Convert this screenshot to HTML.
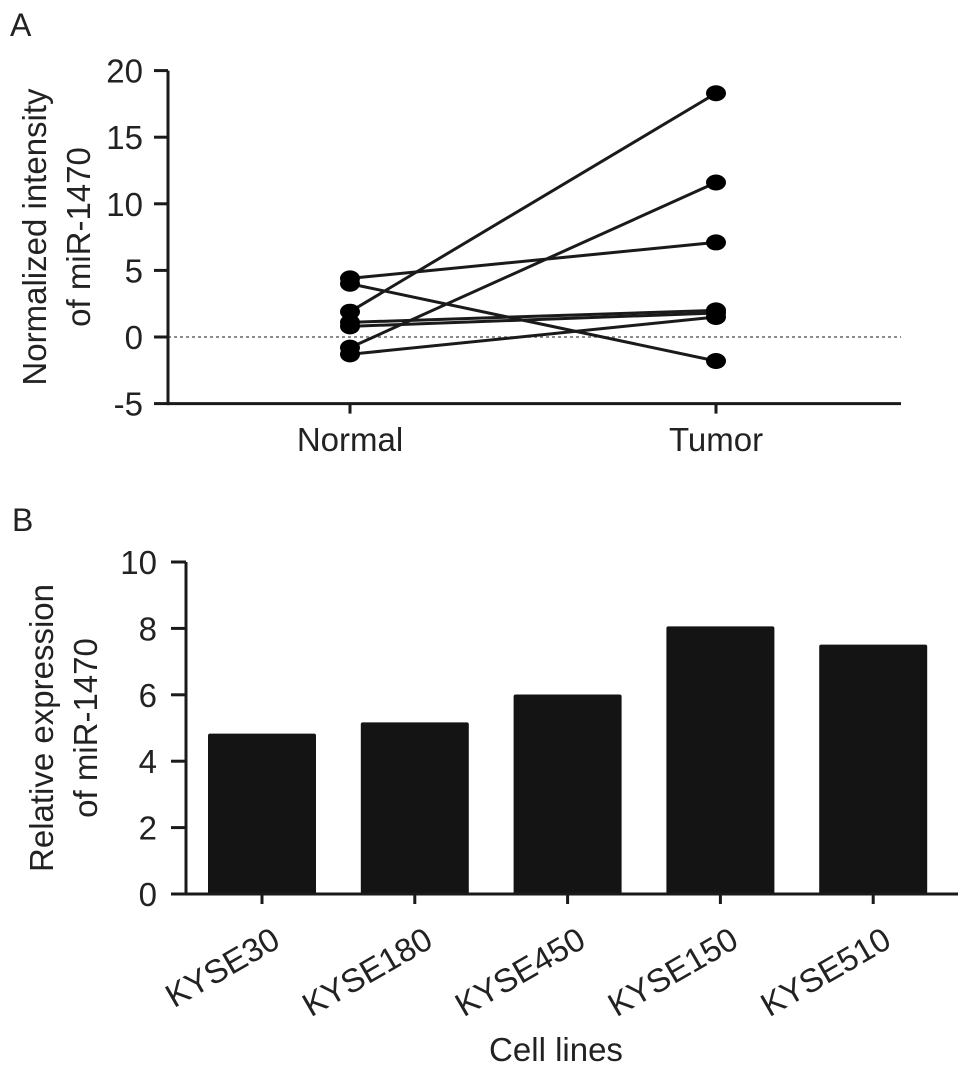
<!DOCTYPE html>
<html><head><meta charset="utf-8"><style>
html,body{margin:0;padding:0;background:#fff;}
svg{display:block;font-family:"Liberation Sans",Arial,sans-serif;}
</style></head><body>
<svg id="fig" width="971" height="1074" viewBox="0 0 971 1074" xmlns="http://www.w3.org/2000/svg">
<text x="10" y="36" font-size="32" fill="#222">A</text>
<text x="12" y="531" font-size="32" fill="#222">B</text>
<g id="pa"></g>
<g id="pb"></g>
</svg>
<script>
const groupsA = ["Normal", "Tumor"];
const normalVals = [4.4, 4.0, 1.9, -0.8, 1.1, 0.8, -1.3];
const tumorVals = [7.1, -1.8, 18.3, 11.6, 2.0, 1.8, 1.5];
const ticksA = [20, 15, 10, 5, 0, -5];
const cellLines = ["KYSE30", "KYSE180", "KYSE450", "KYSE150", "KYSE510"];
const expr = [4.83, 5.17, 6.01, 8.06, 7.51];
const ticksB = [10, 8, 6, 4, 2, 0];

const NS = "http://www.w3.org/2000/svg";
const FS = 33;
function mk(parent, tag, attrs, txt){
  const e = document.createElementNS(NS, tag);
  for (const k in attrs) e.setAttribute(k, attrs[k]);
  if (txt !== undefined) e.textContent = txt;
  parent.appendChild(e);
  return e;
}
const C = "#1a1a1a";
// Panel A
const pa = document.getElementById("pa");
const yA = v => 337 + (0 - v) * (333 / 25);
const xA = i => [350, 716][i];
let e;
e = mk(pa, "line", {x1:168, y1:yA(0), x2:901, y2:yA(0), stroke:"#666", "stroke-width":1.5, "stroke-dasharray":"3,3"});


e = mk(pa, "line", {x1:168, y1:yA(20), x2:168, y2:yA(-5)+1.5, stroke:C, "stroke-width":3});


e = mk(pa, "line", {x1:168, y1:yA(-5), x2:901, y2:yA(-5), stroke:C, "stroke-width":3});


ticksA.forEach(t => {
  e = mk(pa, "line", {x1:154, y1:yA(t), x2:168, y2:yA(t), stroke:C, "stroke-width":3});
  
  
  e = mk(pa, "text", {x:143, y:yA(t)+12, "font-size":FS, "text-anchor":"end", fill:"#222"}, String(t));
  
  
});
groupsA.forEach((g, i) => {
  e = mk(pa, "line", {x1:xA(i), y1:yA(-5), x2:xA(i), y2:yA(-5)+10, stroke:C, "stroke-width":3});
  
  
  e = mk(pa, "text", {x:xA(i), y:451, "font-size":FS, "text-anchor":"middle", fill:"#222"}, g);
  
  
});
normalVals.forEach((n, k) => {
  const t = tumorVals[k];
  e = mk(pa, "line", {x1:xA(0), y1:yA(n), x2:xA(1), y2:yA(t), stroke:C, "stroke-width":3});
  
  
});
normalVals.forEach((n, k) => {
  const t = tumorVals[k];
  e = mk(pa, "ellipse", {cx:xA(0), cy:yA(n), rx:10, ry:8, fill:"#000"});
  
  
  e = mk(pa, "ellipse", {cx:xA(1), cy:yA(t), rx:10, ry:8, fill:"#000"});
  
  
});
e = mk(pa, "text", {transform:"translate(46,237) rotate(-90)", "font-size":FS, "text-anchor":"middle", fill:"#222"}, "Normalized intensity");


e = mk(pa, "text", {transform:"translate(90,237) rotate(-90)", "font-size":FS, "text-anchor":"middle", fill:"#222"}, "of miR-1470");



// Panel B
const pb = document.getElementById("pb");
const yB = v => 894 - v * 33.2;
const xB = i => 262 + i * 152.8;
const bw = 108;
cellLines.forEach((c, i) => {
  e = mk(pb, "rect", {x:xB(i)-bw/2, y:yB(expr[i]), width:bw, height:yB(0)-yB(expr[i]), fill:"#141414", rx:2});
  
  
});
e = mk(pb, "line", {x1:186, y1:yB(10), x2:186, y2:yB(0)+1.5, stroke:C, "stroke-width":3});


e = mk(pb, "line", {x1:186, y1:yB(0), x2:958, y2:yB(0), stroke:C, "stroke-width":3});


ticksB.forEach(t => {
  e = mk(pb, "line", {x1:171, y1:yB(t), x2:186, y2:yB(t), stroke:C, "stroke-width":3});
  
  
  e = mk(pb, "text", {x:157, y:yB(t)+12, "font-size":FS, "text-anchor":"end", fill:"#222"}, String(t));
  
  
});
cellLines.forEach((c, i) => {
  e = mk(pb, "line", {x1:xB(i), y1:yB(0), x2:xB(i), y2:yB(0)+10, stroke:C, "stroke-width":3});
  
  
  e = mk(pb, "text", {transform:"translate(" + (xB(i)+20) + ",946) rotate(-30)", "font-size":FS, "text-anchor":"end", fill:"#222"}, c);
  
  
});
e = mk(pb, "text", {transform:"translate(53,728) rotate(-90)", "font-size":FS, "text-anchor":"middle", fill:"#222"}, "Relative expression");


e = mk(pb, "text", {transform:"translate(97,728) rotate(-90)", "font-size":FS, "text-anchor":"middle", fill:"#222"}, "of miR-1470");


e = mk(pb, "text", {x:556, y:1061, "font-size":FS, "text-anchor":"middle", fill:"#222"}, "Cell lines");


</script>
</body></html>
